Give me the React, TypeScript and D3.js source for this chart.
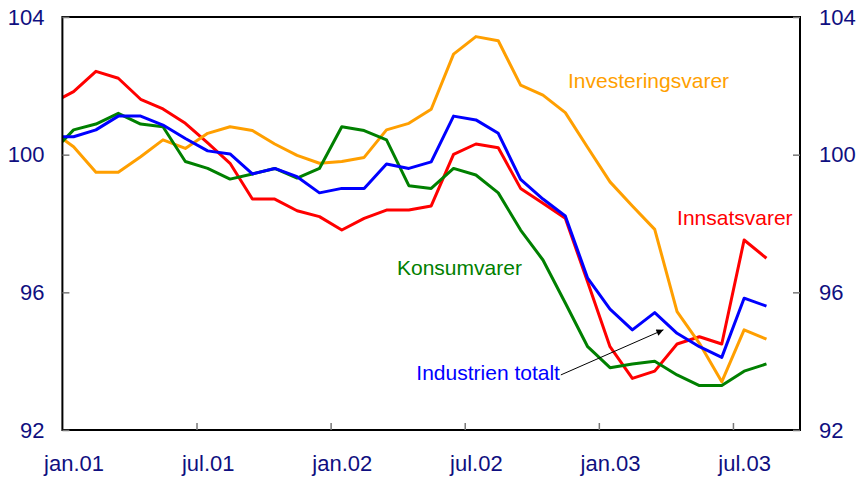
import { useEffect, useRef } from 'react'
import * as d3 from 'd3'

// monthly categories, des.00 is only partly visible (clipped at the left axis)
const months = [
  'des.00',
  'jan.01', 'feb.01', 'mar.01', 'apr.01', 'mai.01', 'jun.01', 'jul.01', 'aug.01', 'sep.01', 'okt.01', 'nov.01', 'des.01',
  'jan.02', 'feb.02', 'mar.02', 'apr.02', 'mai.02', 'jun.02', 'jul.02', 'aug.02', 'sep.02', 'okt.02', 'nov.02', 'des.02',
  'jan.03', 'feb.03', 'mar.03', 'apr.03', 'mai.03', 'jun.03', 'jul.03', 'aug.03',
]
const tickLabels = ['jan.01', 'jul.01', 'jan.02', 'jul.02', 'jan.03', 'jul.03']
const yTicks = [92, 96, 100, 104]

const industrienTotalt = [
  100.52, 100.52, 100.72, 101.12, 101.12, 100.86, 100.47, 100.11, 100.02, 99.44, 99.6, 99.36, 98.89,
  99.02, 99.02, 99.73, 99.6, 99.79, 101.12, 101.01, 100.62, 99.28, 98.71, 98.22, 96.41,
  95.51, 94.91, 95.41, 94.81, 94.42, 94.11, 95.83, 95.6,
]
const innsatsvarer = [
  101.49, 101.83, 102.42, 102.22, 101.61, 101.33, 100.91, 100.34, 99.75, 98.71, 98.71, 98.37, 98.2,
  97.81, 98.15, 98.39, 98.39, 98.51, 100.01, 100.31, 100.2, 99.02, 98.59, 98.15, 96.3,
  94.42, 93.5, 93.71, 94.5, 94.71, 94.5, 97.52, 96.99,
]
const konsumvarer = [
  100.05, 100.72, 100.89, 101.2, 100.89, 100.81, 99.8, 99.6, 99.29, 99.44, 99.6, 99.32, 99.6,
  100.81, 100.7, 100.43, 99.1, 99.02, 99.6, 99.41, 98.89, 97.81, 96.94, 95.69, 94.42,
  93.81, 93.92, 94.0, 93.6, 93.29, 93.29, 93.71, 93.92,
]
const investeringsvarer = [
  100.7, 100.23, 99.49, 99.49, 99.94, 100.43, 100.18, 100.62, 100.81, 100.7, 100.31, 99.98, 99.75,
  99.8, 99.92, 100.72, 100.91, 101.32, 102.92, 103.43, 103.31, 102.02, 101.73, 101.22, 100.21,
  99.21, 98.51, 97.83, 95.44, 94.52, 93.4, 94.91, 94.64,
]

const series = [
  { name: 'Innsatsvarer', values: innsatsvarer, color: '#ff0000' },
  { name: 'Investeringsvarer', values: investeringsvarer, color: '#ff9f00' },
  { name: 'Konsumvarer', values: konsumvarer, color: '#008000' },
  { name: 'Industrien totalt', values: industrienTotalt, color: '#0000ff' },
]

// label anchors in data units (month position, index value)
const labels = [
  { text: 'Investeringsvarer', m: 23.62, v: 101.94, color: '#ff9f00', anchor: 'start' },
  { text: 'Innsatsvarer', m: 28.5, v: 97.96, color: '#ff0000', anchor: 'start' },
  { text: 'Konsumvarer', m: 15.97, v: 96.5, color: '#008000', anchor: 'start' },
  { text: 'Industrien totalt', m: 23.26, v: 93.45, color: '#0000ff', anchor: 'end' },
]
const arrow = { from: [23.3, 93.6], to: [27.89, 94.91] }

const W = 861
const H = 479
const plot = { left: 62.4, right: 800, top: 17, bottom: 430 }
const font = '"Liberation Sans", Arial, sans-serif'
const axisColor = '#0f0f80'

export default function App() {
  const axesRef = useRef<SVGGElement>(null)

  const x = d3.scaleLinear().domain([1, months.length + 1]).range([plot.left, plot.right])
  const y = d3.scaleLinear().domain([92, 104]).range([plot.bottom, plot.top])

  const line = d3.line<number>()
    .x((_, i) => x(i + 0.5))
    .y(v => y(v))

  useEffect(() => {
    const g = d3.select(axesRef.current)
    g.selectAll('*').remove()

    const styleAxis = (sel: any) => {
      sel.select('.domain').remove()
      sel.selectAll('line').attr('stroke', '#777').attr('stroke-width', 1.5)
      sel.selectAll('text')
        .attr('fill', axisColor)
        .style('font-family', font)
        .style('font-size', '22px')
    }

    const left = g.append('g')
      .attr('transform', `translate(${plot.left},0)`)
      .call(d3.axisLeft(y).tickValues(yTicks).tickSize(-7).tickPadding(18).tickFormat(d3.format('d')))
    styleAxis(left)

    const right = g.append('g')
      .attr('transform', `translate(${plot.right},0)`)
      .call(d3.axisRight(y).tickValues(yTicks).tickSize(-7).tickPadding(19).tickFormat(d3.format('d')))
    styleAxis(right)

    // tick marks at category boundaries
    const ticks = g.append('g')
      .attr('transform', `translate(0,${plot.bottom})`)
      .call(d3.axisBottom(x)
        .tickValues(tickLabels.slice(1).map(l => months.indexOf(l)))
        .tickSize(-7)
        .tickFormat(() => ''))
    styleAxis(ticks)

    // labels centred on the category
    const xl = g.append('g')
      .attr('transform', `translate(0,${plot.bottom})`)
      .call(d3.axisBottom(x)
        .tickValues(tickLabels.map(l => months.indexOf(l) + 0.5))
        .tickSize(0)
        .tickPadding(25)
        .tickFormat((_, i) => tickLabels[i]))
    styleAxis(xl)
  }, [])

  return (
    <svg width={W} height={H} style={{ position: 'absolute', left: 0, top: 0, background: '#fff' }}>
      <defs>
        <clipPath id="plotClip">
          <rect x={plot.left} y={0} width={plot.right - plot.left} height={H} />
        </clipPath>
        <marker id="arrowHead" viewBox="0 0 10 10" refX="10" refY="5" markerWidth="9" markerHeight="7"
          markerUnits="userSpaceOnUse" orient="auto">
          <path d="M0,0 L10,5 L0,10 z" fill="#000" />
        </marker>
      </defs>

      <g clipPath="url(#plotClip)">
        {series.map(s => (
          <path key={s.name} d={line(s.values) ?? ''} fill="none" stroke={s.color}
            strokeWidth={3} strokeLinejoin="round" />
        ))}
      </g>

      <rect x={plot.left} y={plot.top} width={plot.right - plot.left} height={plot.bottom - plot.top}
        fill="none" stroke="#000" strokeWidth={2} />

      <g ref={axesRef} />

      {labels.map(l => (
        <text key={l.text} x={x(l.m)} y={y(l.v)} fill={l.color} textAnchor={l.anchor as any}
          style={{ fontFamily: font, fontSize: '21px' }}>
          {l.text}
        </text>
      ))}

      <line x1={x(arrow.from[0])} y1={y(arrow.from[1])} x2={x(arrow.to[0])} y2={y(arrow.to[1])}
        stroke="#000" strokeWidth={1} markerEnd="url(#arrowHead)" />
    </svg>
  )
}
